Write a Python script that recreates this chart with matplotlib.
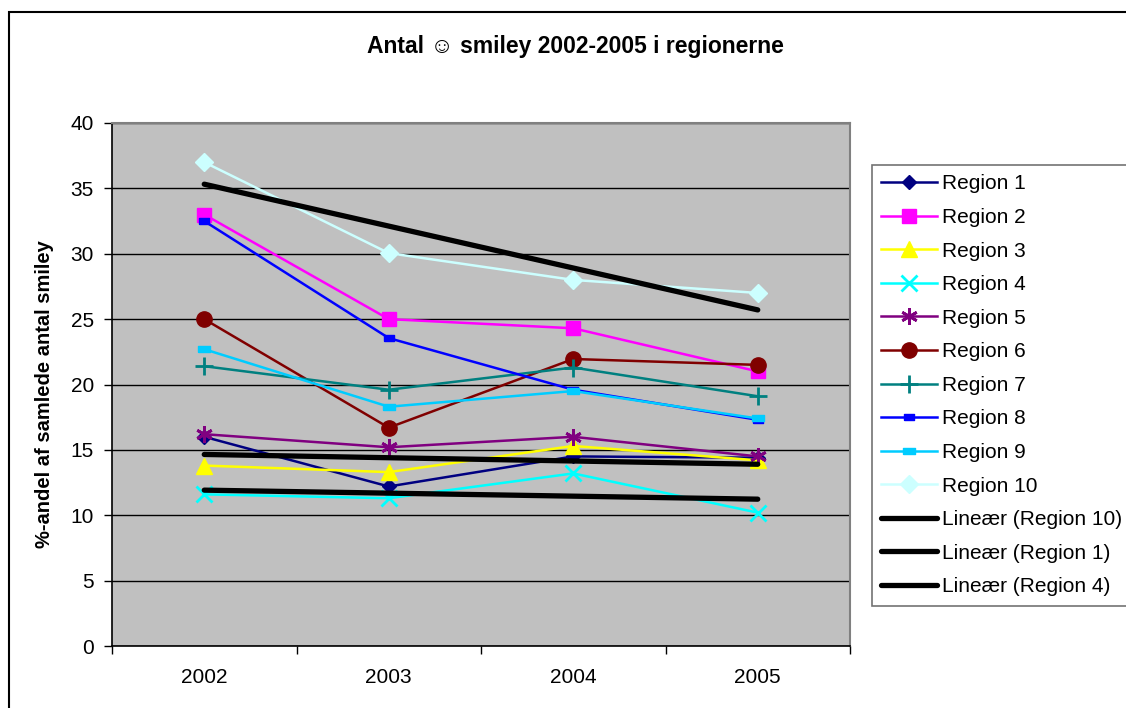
import numpy as np
import matplotlib
matplotlib.use("Agg")
import matplotlib.pyplot as plt
from matplotlib.patches import Rectangle

plt.rcParams['font.family'] = ['Liberation Sans', 'DejaVu Sans']

years = ["2002", "2003", "2004", "2005"]

region_1 = [16.0, 12.2, 14.5, 14.4]
region_2 = [33.0, 25.0, 24.3, 21.0]
region_3 = [13.8, 13.3, 15.3, 14.2]
region_4 = [11.6, 11.3, 13.2, 10.2]
region_5 = [16.2, 15.2, 16.0, 14.5]
region_6 = [25.0, 16.7, 21.95, 21.5]
region_7 = [21.4, 19.6, 21.3, 19.1]
region_8 = [32.5, 23.55, 19.6, 17.3]
region_9 = [22.7, 18.3, 19.5, 17.4]
region_10 = [37.0, 30.05, 28.0, 27.0]

series_names = ["Region 1", "Region 2", "Region 3", "Region 4", "Region 5",
                "Region 6", "Region 7", "Region 8", "Region 9", "Region 10"]
series_values = [region_1, region_2, region_3, region_4, region_5,
                 region_6, region_7, region_8, region_9, region_10]
trend_of = ["Region 10", "Region 1", "Region 4"]

yticks = [0, 5, 10, 15, 20, 25, 30, 35, 40]

# short wide box markers used by Region 8 and Region 9
box_small = [(-1, -0.6), (1, -0.6), (1, 0.6), (-1, 0.6), (-1, -0.6)]
box_wide = [(-1, -0.45), (1, -0.45), (1, 0.45), (-1, 0.45), (-1, -0.45)]

styles = {
    "Region 1": dict(color="#000080", marker="D", ms=7.5),
    "Region 2": dict(color="#FF00FF", marker="s", ms=10),
    "Region 3": dict(color="#FFFF00", marker="^", ms=11),
    "Region 4": dict(color="#00FFFF", marker="x", ms=11, mew=2),
    "Region 5": dict(color="#800080", marker=(6, 2, 0), ms=12, mew=2),
    "Region 6": dict(color="#800000", marker="o", ms=11),
    "Region 7": dict(color="#008080", marker="+", ms=13, mew=2),
    "Region 8": dict(color="#0000FF", marker=box_small, ms=7),
    "Region 9": dict(color="#00CCFF", marker=box_wide, ms=9),
    "Region 10": dict(color="#CCFFFF", marker="D", ms=9.5),
}

W, H = 1126, 708
fig = plt.figure(figsize=(W / 100, H / 100), dpi=100)
ax = fig.add_axes([112 / W, 1 - 646 / H, (850 - 112) / W, (646 - 123) / H])
ax.set_facecolor("#C0C0C0")

x = np.arange(len(years))
handles = []
for name, vals in zip(series_names, series_values):
    st = styles[name]
    h, = ax.plot(x, vals, color=st["color"], lw=1.8, marker=st["marker"],
                 ms=st["ms"], mfc=st["color"], mec=st["color"],
                 mew=st.get("mew", 1), label=name, zorder=3)
    handles.append(h)

for name in trend_of:
    vals = series_values[series_names.index(name)]
    k, m = np.polyfit(x, vals, 1)
    h, = ax.plot(x, k * x + m, color="black", lw=3.8, solid_capstyle="round",
                 label=f"Lineær ({name})", zorder=4)
    handles.append(h)

ax.set_xlim(-0.5, len(years) - 0.5)
ax.set_ylim(0, 40)
ax.set_yticks(yticks)
ax.tick_params(axis="y", direction="out", length=6, width=1, pad=7,
               labelsize=15, color="black")
ax.set_xticks(np.arange(-0.5, len(years), 1.0))
ax.set_xticklabels([])
ax.tick_params(axis="x", which="major", direction="out", length=6, width=1,
               color="black")
ax.set_xticks(x, minor=True)
ax.set_xticklabels(years, minor=True)
ax.tick_params(axis="x", which="minor", length=0, pad=16, labelsize=15)

ax.yaxis.grid(True, color="black", lw=1)
ax.set_axisbelow(True)
for side in ("top", "right"):
    ax.spines[side].set_color("#808080")
    ax.spines[side].set_linewidth(1.5)
for side in ("left", "bottom"):
    ax.spines[side].set_color("black")
    ax.spines[side].set_linewidth(1.2)

fig.text(575 / W, 1 - 47 / H, "Antal ☺ smiley 2002-2005 i regionerne",
         ha="center", va="center", fontsize=16.5, fontweight="bold")
fig.text(45 / W, 1 - 394 / H, "%-andel af samlede antal smiley",
         ha="center", va="center", rotation=90, fontsize=14.5,
         fontweight="bold")

leg = fig.legend(handles=handles, loc="upper left",
                 bbox_to_anchor=(872 / W, 1 - 165 / H), fontsize=15,
                 frameon=True, fancybox=False, handlelength=2.65,
                 handletextpad=0.25, borderpad=0.45, labelspacing=0.70,
                 borderaxespad=0)
leg.get_frame().set_edgecolor("#505050")
leg.get_frame().set_linewidth(1.2)

# chart-area frame
fig.add_artist(Rectangle((9 / W, -0.1), 1.2, 1 - 12 / H + 0.1,
                         transform=fig.transFigure, fill=False,
                         edgecolor="black", lw=1.5))

fig.savefig("out.png", dpi=100)
